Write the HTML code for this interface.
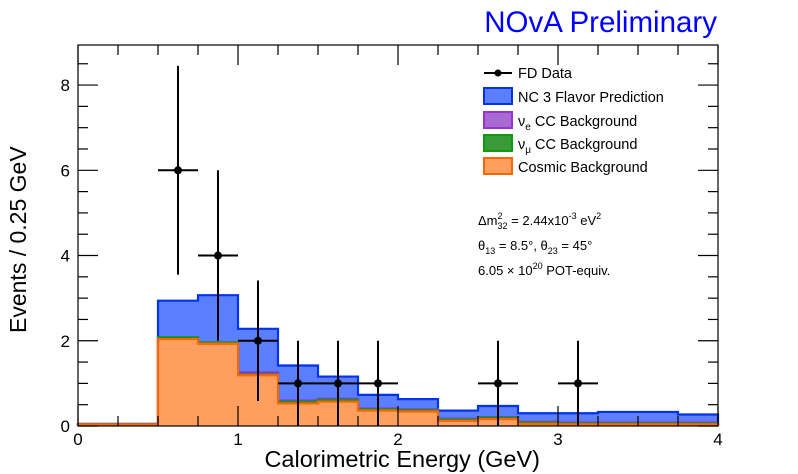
<!DOCTYPE html>
<html><head><meta charset="utf-8"><style>
body{margin:0;background:#fff;}
svg{font-family:"Liberation Sans",sans-serif;display:block;}
</style></head><body>
<svg width="798" height="474" viewBox="0 0 798 474" xmlns="http://www.w3.org/2000/svg">
<g id="hist"></g>
<g id="data"></g>
<g id="axes"></g>
<text x="717" y="32" text-anchor="end" font-size="29.5" fill="#0000ff">NOvA Preliminary</text>
<text x="540" y="467" text-anchor="end" font-size="23.5" fill="#000">Calorimetric Energy (GeV)</text>
<text transform="translate(26,333) rotate(-90)" font-size="23" fill="#000">Events / 0.25 GeV</text>
<g font-size="14.5">
 <g>
  <line x1="484" y1="73" x2="512" y2="73" stroke="#000" stroke-width="2"/><circle cx="498" cy="73" r="3.5"/>
  <text x="518" y="78">FD Data</text></g>
 <g>
  <rect x="484" y="88" width="28" height="16" fill="#5b7fff" stroke="#0033ee" stroke-width="2"/>
  <text x="518" y="102">NC 3 Flavor Prediction</text></g>
 <g>
  <rect x="484" y="112" width="28" height="16" fill="#a66ad0" stroke="#9933cc" stroke-width="2"/>
  <text x="518" y="126">ν<tspan font-size="10" dy="4">e</tspan><tspan dy="-4"> CC Background</tspan></text></g>
 <g>
  <rect x="484" y="135" width="28" height="16" fill="#3a9a3a" stroke="#119911" stroke-width="2"/>
  <text x="518" y="149">ν<tspan font-size="10" dy="4">μ</tspan><tspan dy="-4"> CC Background</tspan></text></g>
 <g>
  <rect x="484" y="158" width="28" height="16" fill="#ff9f5f" stroke="#ff6600" stroke-width="2"/>
  <text x="518" y="172">Cosmic Background</text></g>
</g>
<g font-size="13">
 <text x="478" y="225">Δm<tspan font-size="9" dy="-6">2</tspan><tspan font-size="9" dx="-5" dy="10">32</tspan><tspan dy="-4"> = 2.44x10</tspan><tspan font-size="9" dy="-6">-3</tspan><tspan dy="6"> eV</tspan><tspan font-size="9" dy="-6">2</tspan></text>
 <text x="478" y="250">θ<tspan font-size="9" dy="4">13</tspan><tspan dy="-4"> = 8.5°, θ</tspan><tspan font-size="9" dy="4">23</tspan><tspan dy="-4"> = 45°</tspan></text>
 <text x="478" y="275">6.05 × 10<tspan font-size="9" dy="-6">20</tspan><tspan dy="6"> POT-equiv.</tspan></text>
</g>
<script>
const binEdges=[0,0.25,0.5,0.75,1,1.25,1.5,1.75,2,2.25,2.5,2.75,3,3.25,3.5,3.75,4];
const cosmic=[0.04,0.04,2.04,1.93,1.19,0.53,0.57,0.36,0.34,0.12,0.16,0.05,0.04,0.04,0.04,0.04];
const numuCC=[0,0,0.04,0.03,0.02,0.04,0.04,0.03,0.03,0.03,0.03,0.03,0.02,0.02,0.02,0.02];
const nueCC=[0,0,0.0,0.0,0.05,0.03,0.03,0.02,0.02,0.02,0.02,0.02,0.02,0.02,0.02,0.02];
const total=[0.05,0.05,2.94,3.07,2.28,1.42,1.16,0.73,0.63,0.36,0.47,0.3,0.3,0.33,0.33,0.27];
const dataX=[0.625,0.875,1.125,1.375,1.625,1.875,2.625,3.125];
const dataY=[6,4,2,1,1,1,1,1];
const xTicks=[0,1,2,3,4];
const yTicks=[0,2,4,6,8];
const X0=78,X1=718,Y0=426,Y1=45,xmax=4,ymax=8.94;
const sx=v=>X0+(X1-X0)*v/xmax, sy=v=>Y0-(Y0-Y1)*v/ymax;
const NS="http://www.w3.org/2000/svg";
function mk(t,a,p){const e=document.createElementNS(NS,t);for(const k in a)e.setAttribute(k,a[k]);p.appendChild(e);return e;}
const H=document.getElementById('hist');
function stepPath(vals){let d=`M${sx(binEdges[0])},${sy(0)}`;vals.forEach((v,i)=>{d+=` L${sx(binEdges[i])},${sy(v)} L${sx(binEdges[i+1])},${sy(v)}`;});d+=` L${sx(binEdges[binEdges.length-1])},${sy(0)}`;return d;}
const c1=cosmic, c2=cosmic.map((v,i)=>v+numuCC[i]), c3=c2.map((v,i)=>v+nueCC[i]);
const layers=[[total,'#5b7fff','#0033ee','hist-nc-prediction'],[c3,'#a66ad0','#9933cc','hist-nue-cc'],[c2,'#3a9a3a','#119911','hist-numu-cc'],[c1,'#ff9f5f','#ff6600','hist-cosmic']];
layers.forEach(([v,f,s,n])=>{const p=mk('path',{d:stepPath(v),fill:f,stroke:s,'stroke-width':2.2},H);

});
const D=document.getElementById('data');
dataX.forEach((x,i)=>{const y=dataY[i],e=Math.sqrt(y);
const g=mk('g',{},D);


mk('line',{x1:sx(x),x2:sx(x),y1:sy(Math.max(0,y-e)),y2:sy(y+e),stroke:'#000','stroke-width':2},g);
mk('line',{x1:sx(x-0.125),x2:sx(x+0.125),y1:sy(y),y2:sy(y),stroke:'#000','stroke-width':2},g);
mk('circle',{cx:sx(x),cy:sy(y),r:4,fill:'#000'},g);});
const A=document.getElementById('axes');
mk('rect',{x:X0,y:Y1,width:X1-X0,height:Y0-Y1,fill:'none',stroke:'#000','stroke-width':1.2},A);
for(let v=0;v<=4.001;v+=0.25){const maj=Math.abs(v-Math.round(v))<1e-6,L=maj?20:10;
mk('line',{x1:sx(v),x2:sx(v),y1:Y0,y2:Y0-L,stroke:'#000','stroke-width':1.2},A);
mk('line',{x1:sx(v),x2:sx(v),y1:Y1,y2:Y1+L,stroke:'#000','stroke-width':1.2},A);}
for(let v=0;v<=8.8;v+=0.5){const maj=Math.abs(v/2-Math.round(v/2))<1e-6,L=maj?20:10;
mk('line',{x1:X0,x2:X0+L,y1:sy(v),y2:sy(v),stroke:'#000','stroke-width':1.2},A);
mk('line',{x1:X1,x2:X1-L,y1:sy(v),y2:sy(v),stroke:'#000','stroke-width':1.2},A);}
xTicks.forEach(v=>{const t=mk('text',{x:sx(v),y:Y0+19,'text-anchor':'middle','font-size':17},A);t.textContent=v;

});
yTicks.forEach(v=>{const t=mk('text',{x:X0-8,y:sy(v)+6,'text-anchor':'end','font-size':17},A);t.textContent=v;

});
</script>
</svg>
</body></html>
